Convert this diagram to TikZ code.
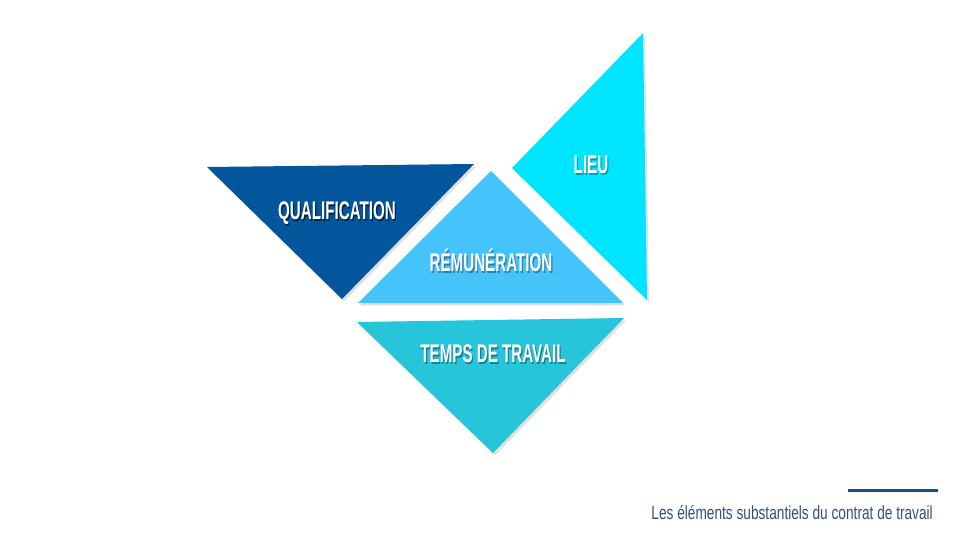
\documentclass[tikz,border=0pt]{standalone}
\usepackage{fontspec}
\usetikzlibrary{calc}
\newfontfamily\labelfont[FakeStretch=0.595]{Liberation Sans Bold}
\newfontfamily\footfont[FakeStretch=0.72]{Liberation Sans}
\definecolor{cQual}{HTML}{03569B}
\definecolor{cRem}{HTML}{45C4FC}
\definecolor{cLieu}{HTML}{00E5FF}
\definecolor{cTemps}{HTML}{26C5DA}
\definecolor{cLine}{HTML}{1F4E79}
\definecolor{cFoot}{HTML}{34507A}
\tikzset{
  trishadow/.style={fill=black, opacity=0.12, draw=none},
  lbl/.style={text=white, font=\labelfont\fontsize{25.5}{25.5}\selectfont, inner sep=0pt},
}
% #1 position, #2 name, #3 shadow colour, #4 text
\newcommand{\shadowlabel}[4]{%
  \node[lbl] (#2) at (#1) {\rlap{\kern1.2pt\raisebox{-2pt}{\textcolor{#3}{#4}}}#4};}
\begin{document}
\begin{tikzpicture}[x=1pt,y=-1pt]
\useasboundingbox[fill=white] (0,0) rectangle (960,540);
% coordinates (pixel positions of the reference)
\coordinate (q1) at (207,167); \coordinate (q2) at (474,164); \coordinate (q3) at (342,299);
\coordinate (r1) at (491,171); \coordinate (r2) at (358,303); \coordinate (r3) at (623,303);
\coordinate (l1) at (643,33);  \coordinate (l2) at (512,168); \coordinate (l3) at (647,300);
\coordinate (t1) at (357,322); \coordinate (t2) at (624,318); \coordinate (t3) at (493,453);
% shadows
\foreach \a/\b/\c in {q1/q2/q3, r1/r2/r3, l1/l2/l3, t1/t2/t3}
  \fill[trishadow] ($(\a)+(2,2.5)$) -- ($(\b)+(2,2.5)$) -- ($(\c)+(2,2.5)$) -- cycle;
% triangles
\fill[cQual]  (q1) -- (q2) -- (q3) -- cycle;
\fill[cRem]   (r1) -- (r2) -- (r3) -- cycle;
\fill[cLieu]  (l1) -- (l2) -- (l3) -- cycle;
\fill[cTemps] (t1) -- (t2) -- (t3) -- cycle;
% labels
\coordinate (pq) at (337,214);
\coordinate (pr) at (491,261);
\coordinate (pl) at (591,166);
\coordinate (pt) at (493,355);
\shadowlabel{pq}{lq}{black!55!cQual}{QUALIFICATION}
\shadowlabel{pr}{lr}{black!35!cRem}{RÉMUNÉRATION}
\shadowlabel{pl}{ll}{black!30!cLieu}{LIEU}
\shadowlabel{pt}{lt}{black!35!cTemps}{TEMPS DE TRAVAIL}
% footer
\coordinate (f1) at (848,490); \coordinate (f2) at (938,490);
\draw[cLine, line width=3pt] (f1) -- (f2);
\node[anchor=east, text=cFoot, font=\footfont\fontsize{19}{19}\selectfont, inner sep=0pt] (foot) at (933,513) {Les éléments substantiels du contrat de travail};
\end{tikzpicture}
\end{document}
